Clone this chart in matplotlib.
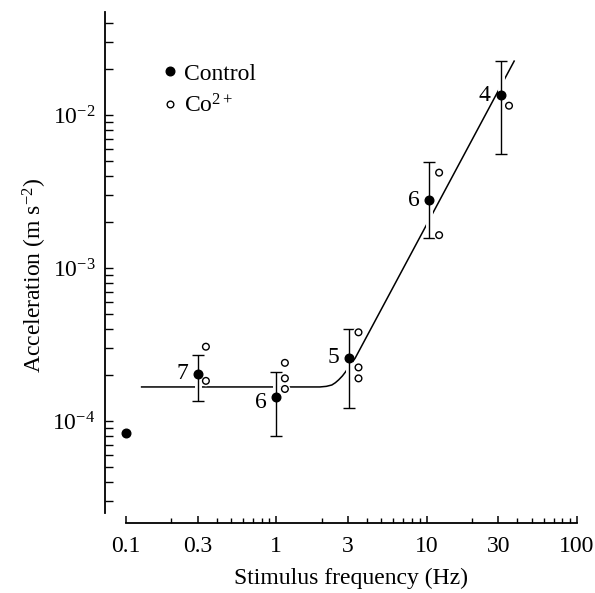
import numpy as np
import matplotlib.pyplot as plt
import matplotlib.patheffects as pe
from matplotlib.ticker import FixedLocator, FixedFormatter, LogLocator, NullFormatter
from matplotlib.lines import Line2D

plt.rcParams['font.family'] = ['Liberation Serif', 'DejaVu Serif']
plt.rcParams['mathtext.fontset'] = 'custom'
plt.rcParams['mathtext.rm'] = 'Liberation Serif'
plt.rcParams['mathtext.it'] = 'Liberation Serif:italic'
plt.rcParams['mathtext.bf'] = 'Liberation Serif:bold'
plt.rcParams['font.size'] = 17

# ---- data ----
# control: mean, upper and lower error bar ends
ctrl_freq = [0.1, 0.3, 1.0, 3.05, 10.4, 31.0]
ctrl_acc = [8.3e-5, 2.03e-4, 1.44e-4, 2.6e-4, 2.78e-3, 1.35e-2]
ctrl_hi = [np.nan, 2.7e-4, 2.1e-4, 4.0e-4, 4.9e-3, 2.26e-2]
ctrl_lo = [np.nan, 1.36e-4, 8.0e-5, 1.22e-4, 1.56e-3, 5.6e-3]
ctrl_n = ['', '7', '6', '5', '6', '4']

# Co2+ single observations
co_freq = [0.34, 0.34, 1.14, 1.14, 1.14, 3.52, 3.52, 3.52, 12.1, 12.1, 35.3]
co_acc = [3.06e-4, 1.83e-4, 2.4e-4, 1.9e-4, 1.62e-4,
          3.8e-4, 2.24e-4, 1.9e-4, 4.2e-3, 1.64e-3, 1.15e-2]

# fitted curve
fit_freq = [0.127, 1.95, 2.15, 2.34, 2.47, 2.6, 2.75, 2.87, 3.1, 3.34, 38.2]
fit_acc = [1.67e-4, 1.67e-4, 1.685e-4, 1.72e-4, 1.78e-4, 1.86e-4, 1.97e-4,
           2.08e-4, 2.32e-4, 2.57e-4, 2.25e-2]

xticks = [0.1, 0.3, 1, 3, 10, 30, 100]
xticklabels = ['0.1', '0.3', '1', '3', '10', '30', '100']

# ---- plot ----
fig = plt.figure(figsize=(5.95, 5.93), dpi=100)
ax = fig.add_axes([126 / 595, 1 - 513 / 593, 451 / 595, 501 / 593])
ax.set_xscale('log')
ax.set_yscale('log')

ax.plot(fit_freq, fit_acc, color='black', lw=1.1, zorder=1)

f = np.array(ctrl_freq)
a = np.array(ctrl_acc)
hi = np.array(ctrl_hi)
lo = np.array(ctrl_lo)
m = ~np.isnan(hi)
eb = ax.errorbar(f[m], a[m], yerr=[a[m] - lo[m], hi[m] - a[m]], fmt='none',
                 ecolor='black', elinewidth=1.0, capsize=4.5, capthick=1.0, zorder=2)
halo = [pe.withStroke(linewidth=5, foreground='white')]
for c in eb[2]:
    c.set_path_effects(halo)

ax.plot(co_freq, co_acc, 'o', ms=4.8, mfc='white', mec='black', mew=1.0, zorder=3,
        path_effects=[pe.withStroke(linewidth=3, foreground='white')])
ax.plot(ctrl_freq, ctrl_acc, 'o', ms=6.2, color='black', zorder=4, clip_on=False)

for x, y, n in zip(ctrl_freq, ctrl_acc, ctrl_n):
    if not n:
        continue
    dy = -4 if n == '6' and x < 2 else 0
    ax.annotate(n, (x, y), xytext=(-7, dy), textcoords='offset points',
                ha='right', va='center', fontsize=17)

ax.set_xlim(0.1, 100)
ax.set_ylim(10 ** -4.601, 10 ** -1.327)

ax.xaxis.set_major_locator(FixedLocator(xticks))
ax.xaxis.set_major_formatter(FixedFormatter(xticklabels))
ax.xaxis.set_minor_locator(LogLocator(base=10, subs=np.arange(2, 10)))
ax.xaxis.set_minor_formatter(NullFormatter())
ax.yaxis.set_minor_locator(LogLocator(base=10, subs=np.arange(2, 10)))
ax.yaxis.set_minor_formatter(NullFormatter())

for s in ['top', 'right']:
    ax.spines[s].set_visible(False)
ax.spines['left'].set_position(('outward', 15))
ax.spines['bottom'].set_position(('outward', 7.5))
ax.spines['left'].set_linewidth(1.3)
ax.spines['bottom'].set_linewidth(1.3)

ax.tick_params(axis='x', which='major', direction='in', length=5, width=1.1, pad=9)
ax.tick_params(axis='x', which='minor', direction='in', length=3.5, width=1.0)
ax.tick_params(axis='y', which='both', direction='in', length=5.5, width=1.0, pad=7)

ax.set_xlabel('Stimulus frequency (Hz)', labelpad=8)
ax.set_ylabel('Acceleration (m s$^{-2}$)')
ax.yaxis.set_label_coords(-0.17, 0.475)

handles = [
    Line2D([], [], ls='none', marker='o', ms=6.2, color='black'),
    Line2D([], [], ls='none', marker='o', ms=4.8, mfc='white', mec='black', mew=1.0),
]
ax.legend(handles, ['Control', 'Co$^{2+}$'], loc='upper left',
          bbox_to_anchor=(0.082, 0.898), frameon=False, handlelength=0.6,
          handletextpad=0.3, labelspacing=0.41, borderpad=0, borderaxespad=0)

fig.savefig('out.png', dpi=100)
